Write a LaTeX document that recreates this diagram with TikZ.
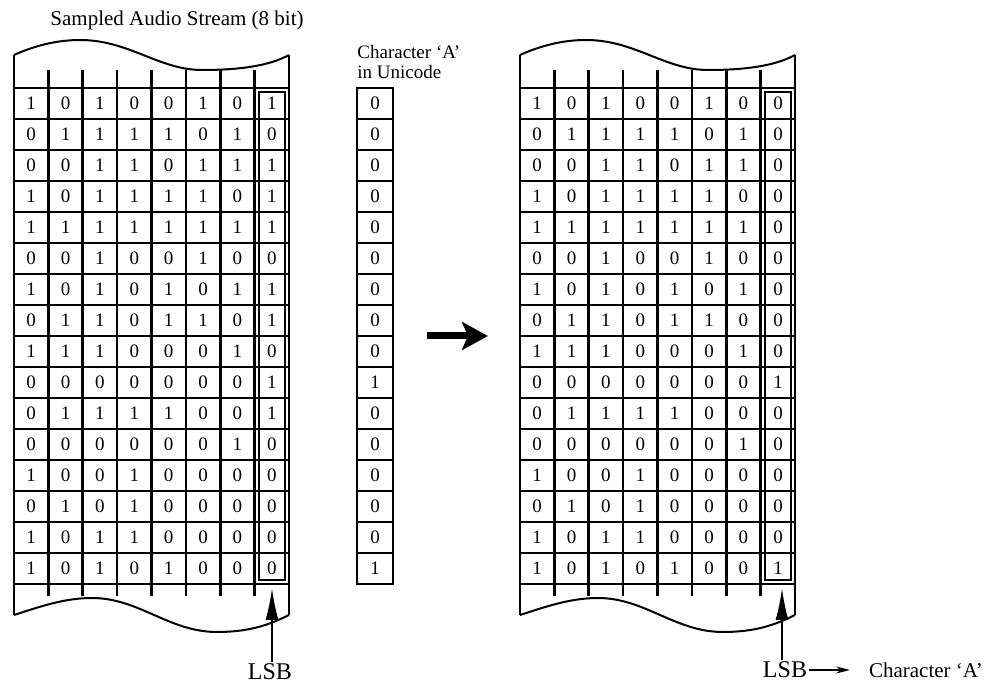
\documentclass[tikz,border=0pt]{standalone}
\usepackage{fontspec}
\setmainfont{Liberation Serif}
\usepackage{tikz}
\usetikzlibrary{arrows.meta,positioning,calc}

\begin{document}
\begin{tikzpicture}[x=0.5pt,y=-0.5pt,
  every node/.style={font=\fontsize{10.5}{10}\selectfont},
  bit/.style={font=\fontsize{9.5}{10}\selectfont,inner sep=0pt},
  ucell/.style={draw,line width=1.3pt,minimum width=18pt,minimum height=15.5pt,inner sep=0pt,font=\fontsize{9.5}{10}\selectfont},
  rule/.style={line width=1.3pt},
  wave/.style={line width=1pt},
  lsbbox/.style={line width=0.9pt},
  lsb/.style={font=\fontsize{12}{12}\selectfont,inner sep=1pt},
  pointer/.style={line width=1pt,-{Latex[length=16pt,width=6.5pt]}},
  bigarrow/.style={line width=3.5pt,-{Stealth[length=13pt,width=14pt,inset=3pt]}},
  thinarrow/.style={line width=0.8pt,-{Stealth[length=7pt,width=3.5pt]},shorten >=6pt}]

  \useasboundingbox (0,0) rectangle (993,684);

  \node (title) at (177,20) {Sampled Audio Stream (8 bit)};
  \node[anchor=west,align=left,inner sep=0pt,font=\fontsize{9.5}{10}\selectfont] (ulabel) at (357,62) {Character `A'\\in Unicode};

  \foreach \sx in {14,520} {
    \begin{scope}[shift={(\sx,0)}]
      \draw[wave] (0,55) .. controls (20,46) and (42,40) .. (66,40)
        .. controls (115,40) and (145,70) .. (188,70)
        .. controls (225,70) and (255,66) .. (275,55);
      \draw[wave] (0,615) .. controls (25,607) and (50,598) .. (78,598)
        .. controls (125,598) and (155,632) .. (203,632)
        .. controls (235,632) and (255,625) .. (275,615);
      \draw[rule] (0,55) -- (0,615) (275,55) -- (275,615);
      \foreach \r in {0,...,16}
        \draw[rule] (0,{88+31*\r}) -- (275,{88+31*\r});
      \foreach \c in {1,...,7}
        \draw[rule] ({34.375*\c},70) -- ({34.375*\c},596);
      \draw[lsbbox] (245,92) rectangle (271,580);
    \end{scope}
  }

  \foreach \r/\bits/\lsbit/\chr in {
    1/{1,0,1,0,0,1,0}/1/0,
    2/{0,1,1,1,1,0,1}/0/0,
    3/{0,0,1,1,0,1,1}/1/0,
    4/{1,0,1,1,1,1,0}/1/0,
    5/{1,1,1,1,1,1,1}/1/0,
    6/{0,0,1,0,0,1,0}/0/0,
    7/{1,0,1,0,1,0,1}/1/0,
    8/{0,1,1,0,1,1,0}/1/0,
    9/{1,1,1,0,0,0,1}/0/0,
    10/{0,0,0,0,0,0,0}/1/1,
    11/{0,1,1,1,1,0,0}/1/0,
    12/{0,0,0,0,0,0,1}/0/0,
    13/{1,0,0,1,0,0,0}/0/0,
    14/{0,1,0,1,0,0,0}/0/0,
    15/{1,0,1,1,0,0,0}/0/0,
    16/{1,0,1,0,1,0,0}/0/1} {
    \pgfmathsetmacro\yc{88+31*(\r-0.5)}
    \foreach \b [count=\c] in \bits {
      \node[bit] (L\r-\c) at ({14+34.375*(\c-0.5)},\yc) {\b};
      \node[bit] (R\r-\c) at ({520+34.375*(\c-0.5)},\yc) {\b};
    }
    \node[bit] (L\r-8) at (272,\yc) {\lsbit};
    \node[bit] (R\r-8) at (778,\yc) {\chr};
    \node[ucell] (U\r) at (375,\yc) {\chr};
  }

  \coordinate (bigtail) at (427,336);
  \coordinate (bighead) at (488,336);
  \draw[bigarrow] (bigtail) -- (bighead);

  \node[lsb] (lsbL) at (270,672) {LSB};
  \coordinate (tipL) at (272,588);
  \draw[pointer] (lsbL.north -| tipL) -- (tipL);

  \node[lsb] (lsbR) at (785,670) {LSB};
  \coordinate (tipR) at (782,588);
  \draw[pointer] (lsbR.north -| tipR) -- (tipR);
  \node[anchor=west,font=\fontsize{10.5}{10}\selectfont] (charA) at (862,670) {Character `A'};
  \draw[thinarrow] (lsbR.east) -- (charA.west);
\end{tikzpicture}
\end{document}
